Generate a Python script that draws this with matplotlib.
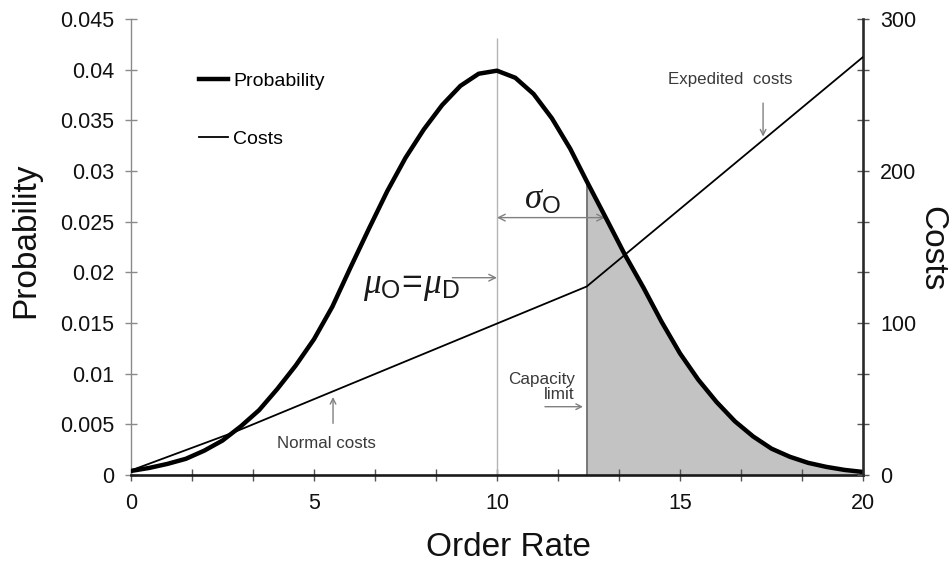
import matplotlib
matplotlib.use("Agg")
import matplotlib.pyplot as plt
import numpy as np
from matplotlib.ticker import MultipleLocator

plt.rcParams['font.family'] = ['Liberation Sans', 'DejaVu Sans']
plt.rcParams['mathtext.fontset'] = 'custom'
plt.rcParams['mathtext.rm'] = 'Liberation Sans'
plt.rcParams['mathtext.it'] = 'Liberation Serif:italic'

# probability curve
ORDER_RATE = [0.0, 0.5, 1.0, 1.5, 2.0, 2.5, 3.0, 3.5, 4.0, 4.5, 5.0, 5.5, 6.0, 6.5,
              7.0, 7.5, 8.0, 8.5, 9.0, 9.5, 10.0, 10.5, 11.0, 11.5, 12.0, 12.45,
              13.0, 13.5, 14.0, 14.5, 15.0, 15.5, 16.0, 16.5, 17.0, 17.5, 18.0,
              18.5, 19.0, 19.5, 20.0]
PROBABILITY = [0.0004, 0.0007, 0.0011, 0.0016, 0.0024, 0.0034, 0.0048, 0.0064,
               0.0085, 0.0108, 0.0134, 0.0166, 0.0205, 0.0243, 0.0280, 0.0313,
               0.0341, 0.0365, 0.0384, 0.0396, 0.0399, 0.0392, 0.0376, 0.0352,
               0.0322, 0.0290, 0.0252, 0.0217, 0.0185, 0.0151, 0.0120, 0.0094,
               0.0072, 0.0053, 0.0038, 0.0026, 0.0018, 0.0012, 0.0008, 0.0005,
               0.0003]

# piecewise cost line (normal up to capacity, expedited above)
COST_RATE = [0.0, 2.8, 12.45, 20.0]
COSTS = [3, 28, 124, 275]

MEAN_RATE = 10.0
SIGMA_END = 12.95
CAPACITY = 12.45

TEXT_C = '#3a3a3a'
ARROW_C = '#808080'

fig = plt.figure(figsize=(9.51, 5.70), dpi=100)
ax = fig.add_axes([131 / 951, 1 - 475 / 570, 732 / 951, 456 / 570])
ax2 = ax.twinx()

x = np.array(ORDER_RATE)
p = np.array(PROBABILITY)

# shaded tail above capacity limit
tail = x >= CAPACITY
ax.fill_between(x[tail], 0, p[tail], color='#c3c3c3', lw=0, zorder=1)
ax.vlines(CAPACITY, 0, p[x == CAPACITY][0], color='#6e6e6e', lw=1.3, zorder=2)
ax.vlines(MEAN_RATE, 0, 0.0431, color='#b5b5b5', lw=1.0, zorder=2)

ax.plot(x, p, color='black', lw=3.2, label='Probability', zorder=4,
        solid_joinstyle='round')
ax2.plot(COST_RATE, COSTS, color='black', lw=1.3, zorder=4)
ax.plot([], [], color='black', lw=1.3, label='Costs')

ax.set_xlim(0, 20)
ax.set_ylim(0, 0.045)
ax2.set_ylim(0, 300)

ax.xaxis.set_major_locator(MultipleLocator(5))
ax.xaxis.set_minor_locator(MultipleLocator(5 / 3))
ax.set_yticks([0, 0.005, 0.01, 0.015, 0.02, 0.025, 0.03, 0.035, 0.04, 0.045])
ax.set_yticklabels(['0', '0.005', '0.01', '0.015', '0.02', '0.025', '0.03',
                    '0.035', '0.04', '0.045'])
ax2.yaxis.set_major_locator(MultipleLocator(100))
ax2.yaxis.set_minor_locator(MultipleLocator(100 / 3))

for a in (ax, ax2):
    a.spines['top'].set_visible(False)
ax.spines['right'].set_visible(False)
ax2.spines['left'].set_visible(False)
ax2.spines['bottom'].set_visible(False)
ax.spines['left'].set_color('#8a8a8a')
ax.spines['left'].set_linewidth(1.0)
ax.spines['bottom'].set_color('#1a1a1a')
ax.spines['bottom'].set_linewidth(1.9)
ax2.spines['right'].set_color('#2a2a2a')
ax2.spines['right'].set_linewidth(1.9)
ax.spines['bottom'].set_zorder(5)

ax.tick_params(axis='x', which='both', direction='inout', length=8.5, width=1,
               color='#555555', labelsize=15.5, pad=9, labelcolor='#111111')
ax.tick_params(axis='y', which='both', direction='inout', length=8.5, width=1,
               color='#8a8a8a', labelsize=15.5, pad=8, labelcolor='#111111')
ax2.tick_params(axis='y', which='both', direction='inout', length=8.5, width=1,
                color='#555555', labelsize=15.5, pad=8, labelcolor='#111111')

ax.set_xlabel('Order Rate', fontsize=24, color='#111111', va='center')
ax.xaxis.set_label_coords(0.515, -0.160)
ax.set_ylabel('Probability', fontsize=24, color='#111111', va='center')
ax.yaxis.set_label_coords(-0.1434, 0.515)
ax2.set_ylabel('Costs', fontsize=24, color='#111111', rotation=270, va='center')
ax2.yaxis.set_label_coords(1.094, 0.4956)

ax.legend(loc='upper left', bbox_to_anchor=(0.0935, 0.883), frameon=False,
          fontsize=14, handlelength=1.45, handletextpad=0.28, labelspacing=2.06,
          borderpad=0, borderaxespad=0)

# annotations
ax.annotate('', xy=(SIGMA_END, 0.0254), xytext=(MEAN_RATE, 0.0254),
            arrowprops=dict(arrowstyle='<->', color=ARROW_C, lw=1.0,
                            shrinkA=0, shrinkB=0, mutation_scale=12))
ax.text(11.23, 0.0272, r'$\sigma_{\mathrm{O}}$', fontsize=25, ha='center',
        va='center', color='#1a1a1a')

ax.text(6.34, 0.0186, r'$\mu_{\mathrm{O}}\!=\!\mu_{\mathrm{D}}$', fontsize=25.5,
        ha='left', va='center', color='#1a1a1a')
ax.annotate('', xy=(MEAN_RATE, 0.01947), xytext=(8.78, 0.01947),
            arrowprops=dict(arrowstyle='->', color=ARROW_C, lw=1.0,
                            shrinkA=0, shrinkB=0, mutation_scale=12))

ax.text(12.13, 0.0087, 'Capacity\nlimit', fontsize=12.3, ha='right', va='center',
        multialignment='right', linespacing=1.0, color=TEXT_C)
ax.annotate('', xy=(12.35, 0.00674), xytext=(11.31, 0.00674),
            arrowprops=dict(arrowstyle='->', color=ARROW_C, lw=1.0,
                            shrinkA=0, shrinkB=0, mutation_scale=10))

ax.text(5.34, 0.0031, 'Normal costs', fontsize=12.2, ha='center', va='center',
        color=TEXT_C)
ax.annotate('', xy=(5.52, 0.0077), xytext=(5.52, 0.0051),
            arrowprops=dict(arrowstyle='->', color=ARROW_C, lw=1.0,
                            shrinkA=0, shrinkB=0, mutation_scale=10))

ax.text(16.36, 0.0390, 'Expedited  costs', fontsize=12.2, ha='center',
        va='center', color=TEXT_C)
ax.annotate('', xy=(17.27, 0.0334), xytext=(17.27, 0.0367),
            arrowprops=dict(arrowstyle='->', color=ARROW_C, lw=1.0,
                            shrinkA=0, shrinkB=0, mutation_scale=10))

fig.savefig('out.png', dpi=100)
